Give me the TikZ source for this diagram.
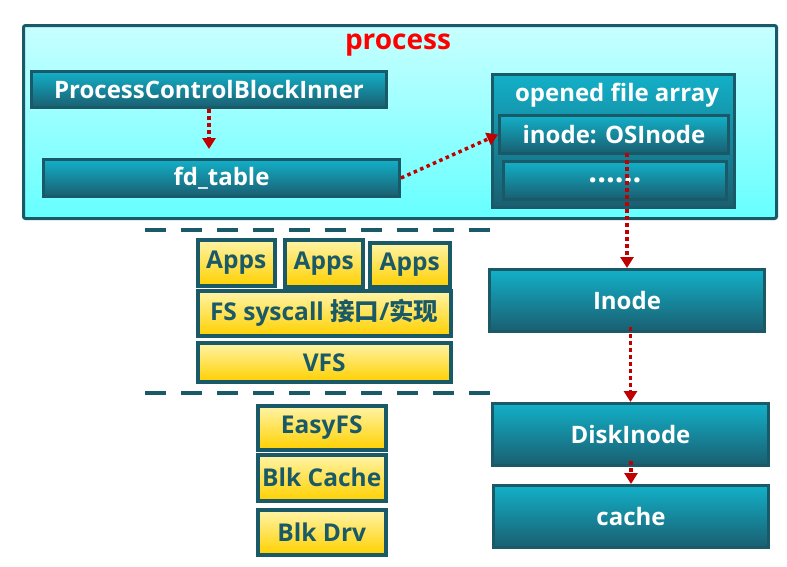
\documentclass[tikz,border=0pt]{standalone}
\usepackage{fontspec}
\setmainfont{Open Sans}
\newfontfamily\cjk{Noto Sans CJK SC}
\usetikzlibrary{arrows.meta}
\definecolor{tealdark}{HTML}{1A5A68}
\definecolor{tealtop}{HTML}{12B0C8}
\definecolor{tealbot}{HTML}{1A5E70}
\definecolor{cyantop}{HTML}{C8FFFF}
\definecolor{cyanbot}{HTML}{66FFFF}
\definecolor{yeltop}{HTML}{FFF4A8}
\definecolor{yelbot}{HTML}{FFD000}
\definecolor{arrowred}{HTML}{C00000}
\tikzset{
  tealbox/.style={draw=tealdark, line width=3pt, top color=tealtop, bottom color=tealbot,
    text=white, font=\bfseries\fontsize{24}{28}\selectfont, inner sep=0pt, anchor=north west},
  yelbox/.style={draw=tealdark, line width=3.5pt, top color=yeltop, bottom color=yelbot,
    text=tealdark, font=\bfseries\fontsize{24.5}{28}\selectfont, inner sep=0pt, anchor=north west},
  redarrow/.style={draw=arrowred, line width=3.5pt, dash pattern=on 3.5pt off 3.5pt,
    -{Triangle[width=13pt,length=11pt]}},
  layerline/.style={draw=tealdark, line width=3.5pt, dash pattern=on 21pt off 15pt}
}
\begin{document}
\begin{tikzpicture}[x=1pt,y=-1pt]
\useasboundingbox (0,0) rectangle (787,566);
% process container
\node[draw=tealdark, line width=3pt, rounded corners=2pt, top color=cyantop, bottom color=cyanbot,
  minimum width=753pt, minimum height=193pt, anchor=north west, inner sep=0pt] (proc) at (22,24) {};
\node[text=red, font=\bfseries\fontsize{28}{32}\selectfont] (proclabel) at (398,45) {process};
\node[tealbox, minimum width=355pt, minimum height=36pt] (pcb) at (30,70) {ProcessControlBlockInner};
\node[tealbox, minimum width=356pt, minimum height=37pt] (fd) at (42,158) {fd\_table};
% opened file array
\node[tealbox, minimum width=242pt, minimum height=133pt] (ofa) at (491,73) {};
\node[text=white, font=\bfseries\fontsize{24}{28}\selectfont] (ofalabel) at (617,95) {opened file array};
\node[tealbox, minimum width=229pt, minimum height=38pt] (inode) at (498,114) {inode: OSInode};
\node[tealbox, minimum width=223pt, minimum height=38pt, font=\bfseries\fontsize{31}{34}\selectfont] (more) at (502,160) {......};
% right column
\node[tealbox, minimum width=275pt, minimum height=62pt] (ino) at (488,268) {Inode};
\node[tealbox, minimum width=276pt, minimum height=62pt] (disk) at (491,402) {DiskInode};
\node[tealbox, minimum width=275pt, minimum height=62pt] (cache) at (492,484) {cache};
% layer lines
\coordinate (l1a) at (145,230); \coordinate (l1b) at (490,230);
\coordinate (l2a) at (145,393); \coordinate (l2b) at (490,393);
\draw[layerline] (l1a) -- (l1b);
\draw[layerline] (l2a) -- (l2b);
% yellow stack
\node[yelbox, minimum width=77pt, minimum height=46pt] (app1) at (196,238) {Apps};
\node[yelbox, minimum width=78pt, minimum height=47pt] (app2) at (283,238) {Apps};
\node[yelbox, minimum width=80pt, minimum height=44pt] (app3) at (368,241) {Apps};
\node[yelbox, minimum width=253pt, minimum height=45pt] (sys) at (196,289) {FS syscall {\cjk\bfseries 接口}/{\cjk\bfseries 实现}};
\node[yelbox, minimum width=253pt, minimum height=39pt] (vfs) at (196,341) {VFS};
\node[yelbox, minimum width=128pt, minimum height=44pt] (efs) at (256,404) {EasyFS};
\node[yelbox, minimum width=128pt, minimum height=46pt] (blkc) at (256,453) {Blk Cache};
\node[yelbox, minimum width=128pt, minimum height=45pt] (blkd) at (256,508) {Blk Drv};
% arrows
\draw[redarrow, shorten >=9pt] (pcb.south) -- (pcb.south |- fd.north);
\draw[redarrow] (fd.east) -- (inode.west);
\draw[redarrow] ([yshift=2pt]inode.south -| ino.north) -- (ino.north);
\draw[redarrow] ([yshift=6pt]ino.south -| disk.north) -- (disk.north);
\draw[redarrow] ([yshift=6pt]disk.south -| cache.north) -- (cache.north);
\end{tikzpicture}
\end{document}
